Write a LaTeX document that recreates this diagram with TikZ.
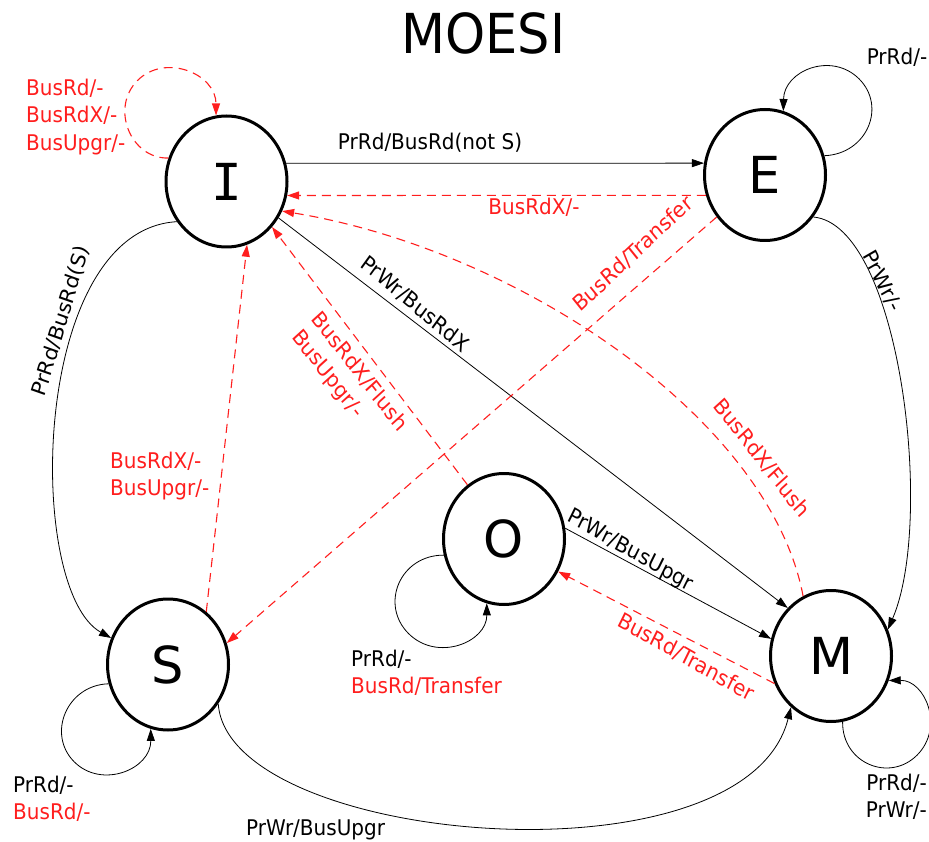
\documentclass[tikz,border=0pt]{standalone}
\usepackage{fontspec}
\setmainfont{DejaVu Sans}
\newfontfamily\slabfont{DejaVu Sans Mono}
\usetikzlibrary{arrows.meta,shapes.geometric}
\definecolor{busred}{RGB}{255,30,30}
\begin{document}
\begin{tikzpicture}[x=1pt,y=-1pt,
  st/.style={ellipse, draw=black, line width=3pt, minimum width=121pt, minimum height=131pt, inner sep=0pt, font=\fontsize{51}{51}\selectfont},
  lbl/.style={font=\fontsize{20}{25.5}\selectfont, inner sep=0pt, yscale=1.08},
  rl/.style={lbl, text=busred},
  blk/.style={draw=black, line width=0.8pt, -{Triangle[length=12pt,width=8pt]}},
  dsh/.style={draw=busred, line width=1.1pt, dash pattern=on 9pt off 6pt, -{Triangle[length=12pt,width=8pt]}}]
\useasboundingbox (0,0) rectangle (929,842);

% title
\node[font=\fontsize{51}{51}\selectfont, inner sep=0pt, yscale=1.08] (title) at (483.5,33) {MOESI};

% states
\node[st] (I) at (226.5,181.5) {\slabfont I};
\node[st] (E) at (765,175) {E};
\node[st] (O) at (504,539) {O};
\node[st] (S) at (168,664.5) {S};
\node[st] (M) at (831,656) {M};

% edges
\draw[blk] (I.17) -- (E.169);
\draw[dsh] (E.199) -- (I.-13);
\draw[blk] (E.18) .. controls (867,154) and (886.8,106.6) .. (859.1,78.9) .. controls (831.4,51.2) and (784,70.8) .. (E.74);
\draw[dsh] (I.158) .. controls (130.8,159) and (109.8,108.2) .. (137.5,80.5) .. controls (165.2,52.8) and (216,73.8) .. (I.99);
\draw[blk] (I.219) .. controls (30,230) and (25,590) .. (S.155);
\draw[dsh] (S.54) -- (I.-72);
\draw[blk] (S.198) .. controls (66.8,685) and (46.5,734.1) .. (74.2,761.8) .. controls (101.9,789.5) and (151,769.2) .. (S.255);
\draw[blk] (S.-38) .. controls (228,845) and (745,890) .. (M.232);
\draw[blk] (I.-35) -- (M.132);
\draw[dsh] (E.221) -- (S.20);
\draw[dsh] (M.115) .. controls (770,420) and (520,250) .. (I.-28);
\draw[dsh] (O.124) -- (I.-45);
\draw[blk] (O.10) -- (M.164);
\draw[dsh] (M.206) -- (O.-31);
\draw[blk] (O.195) .. controls (400,555) and (379.5,604.5) .. (408.5,633.5) .. controls (437.5,662.5) and (487,642) .. (O.255);
\draw[blk] (M.280) .. controls (842,763.2) and (889.4,782.8) .. (917.1,755.1) .. controls (944.8,727.4) and (925.2,680) .. (M.-23);
\draw[blk] (E.-41) .. controls (900,225) and (935,520) .. (M.25);

% labels
\node[lbl] (l1) at (430,143) {PrRd/BusRd(not S)};
\node[rl] (l2) at (534,207) {BusRdX/-};
\node[lbl] (l3) at (897,57) {PrRd/-};
\node[rl, anchor=west, align=left] (l4) at (26,117) {BusRd/-\\BusRdX/-\\BusUpgr/-};
\node[lbl, rotate=72] (l5) at (61,321) {PrRd/BusRd(S)};
\node[rl, anchor=west, align=left] (l6) at (110,476) {BusRdX/-\\BusUpgr/-};
\node[lbl, rotate=-38] (l7) at (415,304) {PrWr/BusRdX};
\node[rl, rotate=41] (l8) at (633,254) {BusRd/Transfer};
\node[rl, rotate=-50, align=left] (l9) at (349,381) {BusRdX/Flush\\BusUpgr/-};
\node[rl, rotate=-50] (l10) at (762,458) {BusRdX/Flush};
\node[lbl, rotate=-28] (l11) at (630,551) {PrWr/BusUpgr};
\node[rl, rotate=-28] (l12) at (686,657) {BusRd/Transfer};
\node[lbl, rotate=-62] (l13) at (882,281) {PrWr/-};
\node[lbl, anchor=west, align=left] (l14) at (351,673) {PrRd/-\\\textcolor{busred}{BusRd/Transfer}};
\node[lbl, anchor=west, align=left] (l15) at (13,799) {PrRd/-\\\textcolor{busred}{BusRd/-}};
\node[lbl, anchor=east, align=right] (l16) at (927,797) {PrRd/-\\PrWr/-};
\node[lbl, anchor=west] (l17) at (246,830) {PrWr/BusUpgr};
\end{tikzpicture}
\end{document}
